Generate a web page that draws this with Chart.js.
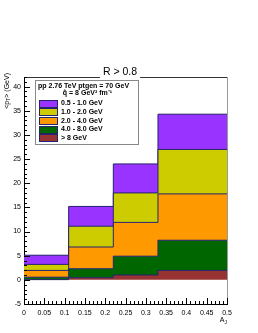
<!DOCTYPE html>
<html>
<head>
<meta charset="utf-8">
<script src="https://cdn.jsdelivr.net/npm/chart.js@4.4.1/dist/chart.umd.min.js"></script>
<style>
  html, body { margin: 0; padding: 0; background: #fff; }
  #wrap { width: 258px; height: 333px; }
</style>
</head>
<body>
<div id="wrap"><canvas id="chart" width="258" height="333"></canvas></div>
<script>
// bin edges of the A_J histogram
const binEdges = [0, 0.11, 0.22, 0.33, 0.5];

// <pT> contribution per track-pt class (GeV), stacked from the bottom
const ptAbove8 = [0.05, 0.45, 1.0, 1.95];
const pt4to8 = [0.5, 1.85, 3.9, 6.25];
const pt2to4 = [1.4, 4.5, 7.0, 9.6];
const pt1to2 = [1.25, 4.3, 6.1, 9.2];
const pt05to1 = [1.9, 4.1, 6.0, 7.3];

const seriesLabels = ['> 8 GeV', '4.0 - 8.0 GeV', '2.0 - 4.0 GeV', '1.0 - 2.0 GeV', '0.5 - 1.0 GeV'];
const seriesColors = ['#993333', '#006600', '#ff9900', '#cccc00', '#9933ff'];

const xTicks = [0, 0.05, 0.1, 0.15, 0.2, 0.25, 0.3, 0.35, 0.4, 0.45, 0.5];
const xTickLabels = ['0', '0.05', '0.1', '0.15', '0.2', '0.25', '0.3', '0.35', '0.4', '0.45', '0.5'];
const yTicks = [-5, 0, 5, 10, 15, 20, 25, 30, 35, 40];
const yTickLabels = ['-5', '0', '5', '10', '15', '20', '25', '30', '35', '40'];

const chartTitle = 'R > 0.8';
const legendHeader = ['pp 2.76 TeV ptgen = 70 GeV', 'q\u0302 = 8 GeV\u00b2 fm\u207b\u00b9'];

const outline = '#25226e';
const FONT = 'Liberation Sans, Arial, Helvetica, sans-serif';

// histogram -> punten voor stepped line
function histPoints(values) {
  const pts = values.map((v, i) => ({ x: binEdges[i], y: v }));
  pts.push({ x: binEdges[binEdges.length - 1], y: values[values.length - 1] });
  return pts;
}

const seriesValues = [ptAbove8, pt4to8, pt2to4, pt1to2, pt05to1];

const datasets = seriesValues.map((vals, i) => ({
  label: seriesLabels[i],
  data: histPoints(vals),
  stepped: 'before',
  fill: i === 0 ? 'origin' : '-1',
  backgroundColor: seriesColors[i],
  borderColor: outline,
  borderWidth: 1,
  pointRadius: 0,
  tension: 0
}));

// frame, inner ticks, title, legend, axis titles
const rootStyle = {
  id: 'rootStyle',
  afterDraw(chart) {
    const ctx = chart.ctx;
    const area = chart.chartArea;
    const xs = chart.scales.x;
    const ys = chart.scales.y;
    ctx.save();

    // frame top + right
    ctx.lineWidth = 1;
    ctx.strokeStyle = '#333';
    ctx.beginPath();
    ctx.moveTo(area.left, Math.round(area.top) + 0.5);
    ctx.lineTo(area.right, Math.round(area.top) + 0.5);
    ctx.stroke();
    ctx.strokeStyle = '#999';
    ctx.beginPath();
    ctx.moveTo(Math.round(area.right) + 0.5, area.top);
    ctx.lineTo(Math.round(area.right) + 0.5, area.bottom);
    ctx.stroke();

    // ticks inside
    ctx.strokeStyle = '#000';
    ctx.beginPath();
    for (let v = -5; v <= 42; v += 1) {
      const py = Math.round(ys.getPixelForValue(v)) + 0.5;
      const len = v % 5 === 0 ? 6 : 3;
      ctx.moveTo(area.left, py);
      ctx.lineTo(area.left + len, py);
    }
    for (let k = 0; k <= 50; k++) {
      const px = Math.round(xs.getPixelForValue(k / 100)) + 0.5;
      const len = k % 5 === 0 ? 6 : 3;
      ctx.moveTo(px, area.bottom);
      ctx.lineTo(px, area.bottom - len);
    }
    ctx.stroke();

    // title met witte achtergrond
    ctx.font = '10.5px ' + FONT;
    const tw = ctx.measureText(chartTitle).width;
    const tx = 120;
    ctx.fillStyle = '#fff';
    ctx.fillRect(tx - tw / 2 - 3, 66, tw + 6, 13);
    ctx.fillStyle = '#000';
    ctx.textAlign = 'center';
    ctx.textBaseline = 'middle';
    ctx.fillText(chartTitle, tx, 72.5);

    // legend
    ctx.fillStyle = '#fff';
    ctx.fillRect(35.5, 80.5, 103, 64);
    ctx.strokeStyle = '#888';
    ctx.strokeRect(35.5, 80.5, 103, 64);
    ctx.fillStyle = '#000';
    ctx.font = 'bold 7px ' + FONT;
    ctx.textAlign = 'left';
    ctx.fillText(legendHeader[0], 38, 86.5);
    ctx.textAlign = 'center';
    ctx.fillText(legendHeader[1], 87.5, 93.5);
    ctx.textAlign = 'left';
    for (let k = 0; k < seriesLabels.length; k++) {
      const i = seriesLabels.length - 1 - k;
      const ry = 103.3 + k * 8.67;
      ctx.fillStyle = seriesColors[i];
      ctx.fillRect(39.5, Math.round(ry - 3.5) + 0.5, 18, 7);
      ctx.strokeStyle = outline;
      ctx.strokeRect(39.5, Math.round(ry - 3.5) + 0.5, 18, 7);
      ctx.fillStyle = '#000';
      ctx.fillText(seriesLabels[i], 61, ry);
    }

    // y title <p_T> (GeV), rechts uitgelijnd op de top
    ctx.save();
    ctx.translate(7, area.top - 4);
    ctx.rotate(-Math.PI / 2);
    ctx.textBaseline = 'middle';
    ctx.textAlign = 'left';
    const big = '7px ' + FONT;
    const small = '5px ' + FONT;
    ctx.font = big;
    const w1 = ctx.measureText('<p').width;
    const w3 = ctx.measureText('> (GeV)').width;
    ctx.font = small;
    const w2 = ctx.measureText('T').width;
    let cx = -(w1 + w2 + w3);
    ctx.fillStyle = '#000';
    ctx.font = big;
    ctx.fillText('<p', cx, 0);
    cx += w1;
    ctx.font = small;
    ctx.fillText('T', cx, 2);
    cx += w2;
    ctx.font = big;
    ctx.fillText('> (GeV)', cx, 0);
    ctx.restore();

    // x title A_J
    ctx.textBaseline = 'alphabetic';
    ctx.textAlign = 'left';
    ctx.font = big;
    const wa = ctx.measureText('A').width;
    ctx.font = small;
    const wj = ctx.measureText('J').width;
    const ax = area.right - wa - wj;
    ctx.font = big;
    ctx.fillText('A', ax, 322);
    ctx.font = small;
    ctx.fillText('J', ax + wa, 324);

    ctx.restore();
  }
};

const chart = new Chart(document.getElementById('chart').getContext('2d'), {
  type: 'line',
  data: { datasets: datasets },
  options: {
    responsive: false,
    animation: false,
    events: [],
    layout: { padding: { top: 77, right: 31, left: 0, bottom: 0 } },
    plugins: {
      legend: { display: false },
      title: { display: false },
      tooltip: { enabled: false }
    },
    scales: {
      x: {
        type: 'linear',
        min: 0,
        max: 0.5,
        afterBuildTicks: s => { s.ticks = xTicks.map(v => ({ value: v })); },
        afterFit: s => { s.height = 29; },
        grid: { drawOnChartArea: false, drawTicks: false },
        border: { display: true, color: '#000', width: 1 },
        ticks: {
          padding: 5,
          autoSkip: false,
          maxRotation: 0,
          color: '#000',
          font: { family: FONT, size: 7 },
          callback: (v, i) => xTickLabels[i]
        }
      },
      y: {
        stacked: true,
        min: -5,
        max: 42,
        afterBuildTicks: s => { s.ticks = yTicks.map(v => ({ value: v })); },
        afterFit: s => { s.width = 24; },
        grid: { drawOnChartArea: false, drawTicks: false },
        border: { display: true, color: '#000', width: 1 },
        ticks: {
          padding: 3,
          color: '#000',
          font: { family: FONT, size: 7 },
          callback: (v, i) => yTickLabels[i]
        }
      }
    }
  },
  plugins: [rootStyle]
});
</script>
</body>
</html>
